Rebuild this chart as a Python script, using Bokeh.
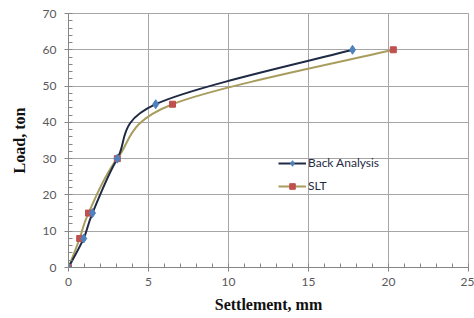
from bokeh.plotting import figure
from bokeh.models import Legend, LegendItem, SingleIntervalTicker, Range1d
from bokeh.embed import file_html
from bokeh.resources import INLINE

# data
back_x = [0.0, 0.95, 1.5, 3.05, 5.45, 17.75]
back_y = [0, 8, 15, 30, 45, 60]
slt_x = [0.0, 0.7, 1.25, 3.05, 6.5, 20.3]
slt_y = [0, 8, 15, 30, 45, 60]

series_names = ["Back Analysis", "SLT"]


def smooth_segments(xs, ys, t=1.0 / 6.0):
    """Bezier control points (Catmull-Rom style, like Excel's smoothed lines)."""
    n = len(xs)
    out = dict(x0=[], y0=[], x1=[], y1=[], cx0=[], cy0=[], cx1=[], cy1=[])
    for i in range(n - 1):
        a = i - 1 if i > 0 else i
        d = i + 2 if i + 2 < n else i + 1
        out["x0"].append(xs[i]); out["y0"].append(ys[i])
        out["x1"].append(xs[i + 1]); out["y1"].append(ys[i + 1])
        out["cx0"].append(xs[i] + (xs[i + 1] - xs[a]) * t)
        out["cy0"].append(ys[i] + (ys[i + 1] - ys[a]) * t)
        out["cx1"].append(xs[i + 1] - (xs[d] - xs[i]) * t)
        out["cy1"].append(ys[i + 1] - (ys[d] - ys[i]) * t)
    return out


p = figure(width=474, height=318, output_backend="svg", toolbar_location=None,
           x_range=Range1d(0, 25), y_range=Range1d(0, 70),
           min_border_left=68, min_border_right=6, min_border_top=13, min_border_bottom=51)
p.outline_line_color = "#A6A6A6"
p.background_fill_color = "white"
p.border_fill_color = "white"

grid_col = "#A6A6A6"
p.xgrid.grid_line_color = grid_col
p.ygrid.grid_line_color = grid_col

p.xaxis.ticker = SingleIntervalTicker(interval=5, num_minor_ticks=5)
p.yaxis.ticker = SingleIntervalTicker(interval=10, num_minor_ticks=5)
for ax in (p.xaxis[0], p.yaxis[0]):
    ax.axis_line_color = "#868686"
    ax.major_tick_line_color = "#868686"
    ax.minor_tick_line_color = "#868686"
    ax.major_tick_in = 0
    ax.major_tick_out = 4
    ax.minor_tick_in = 4
    ax.minor_tick_out = 0
    ax.major_label_text_font = "Lato"
    ax.major_label_text_font_size = "12px"
    ax.major_label_text_color = "#595959"
    ax.axis_label_text_font = "Liberation Serif"
    ax.axis_label_text_font_style = "bold"
    ax.axis_label_text_font_size = "16px"
    ax.axis_label_text_color = "#111111"
p.xaxis.axis_label = "Settlement, mm"
p.yaxis.axis_label = "Load, ton"
p.xaxis.major_label_standoff = 6
p.yaxis.major_label_standoff = 8
p.xaxis.axis_label_standoff = 7
p.yaxis.axis_label_standoff = 12

b = smooth_segments(back_x, back_y)
s = smooth_segments(slt_x, slt_y)

l2 = p.bezier(source=s, x0="x0", y0="y0", x1="x1", y1="y1", cx0="cx0", cy0="cy0",
              cx1="cx1", cy1="cy1", line_color="#A89D5E", line_width=2)
l1 = p.bezier(source=b, x0="x0", y0="y0", x1="x1", y1="y1", cx0="cx0", cy0="cy0",
              cx1="cx1", cy1="cy1", line_color="#1F2A44", line_width=2)
m2 = p.scatter(slt_x, slt_y, marker="square", size=6, fill_color="#C0504D",
               line_color="#C0504D")
m1 = p.scatter(back_x, back_y, marker="diamond", size=9, fill_color="#4F81BD",
               line_color="#4F81BD")

legend = Legend(items=[LegendItem(label=series_names[0], renderers=[l1, m1]),
                       LegendItem(label=series_names[1], renderers=[l2, m2])],
                location=(206, 70), background_fill_alpha=0, border_line_alpha=0,
                label_text_font="Lato", label_text_font_size="12px",
                label_text_color="#1F2A44", glyph_width=28, glyph_height=14,
                label_standoff=2, spacing=8, padding=4, margin=0)
p.add_layout(legend)

open("out.html", "w").write(file_html(p, INLINE))
